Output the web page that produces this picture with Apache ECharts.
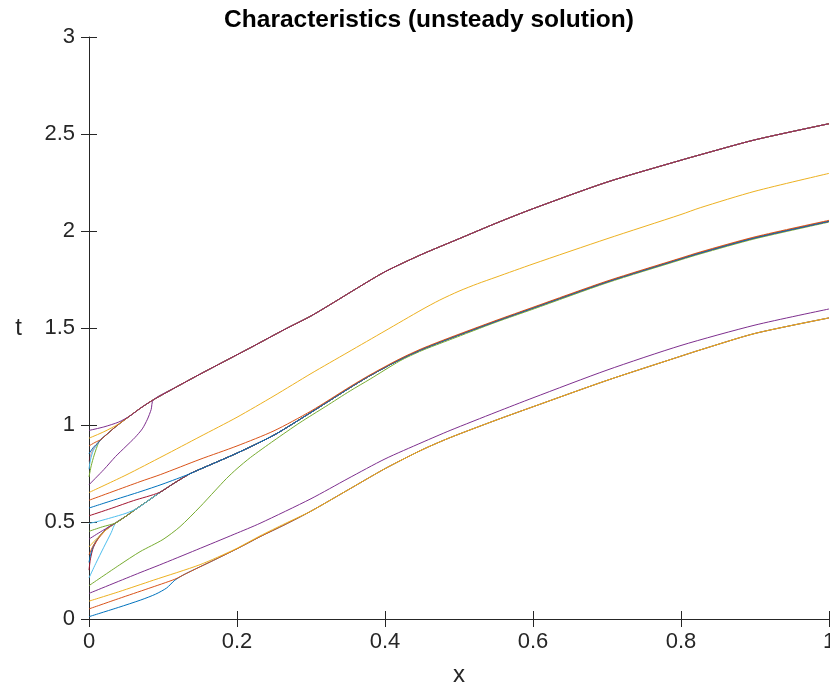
<!DOCTYPE html>
<html>
<head>
<meta charset="utf-8">
<script src="https://cdn.jsdelivr.net/npm/echarts@6/dist/echarts.min.js"></script>
<style>html,body{margin:0;padding:0;background:#fff}#chart{width:830px;height:692px}</style>
</head>
<body>
<div id="chart"></div>
<script>
// ---------- data ----------
const chartTitle = 'Characteristics (unsteady solution)';
const xTickLabels = ['0', '0.2', '0.4', '0.6', '0.8', '1'];
const tTickLabels = ['0', '0.5', '1', '1.5', '2', '2.5', '3'];

// shared trunks where characteristics merge
const lowBranch = [[0.15,0.27],[0.168,0.302],[0.2,0.362],[0.231,0.424],[0.265,0.487]];
const lowTrunk = [[0.3,0.556],[0.353,0.672],[0.4,0.775],[0.45,0.872],[0.488,0.935],[0.55,1.025],[0.6,1.094],[0.7,1.23],[0.8,1.355],[0.826,1.387],[0.9,1.472],[1,1.552]];
const mergeA = [[0.05,0.53]];
const joinB = [[0.064,0.568],[0.08,0.61],[0.095,0.65],[0.115,0.70]];
const blueMid = [[0.136,0.748],[0.15,0.772],[0.2,0.855],[0.25,0.948]];
const midTrunk = [[0.3,1.065],[0.353,1.193],[0.38,1.255],[0.42,1.337],[0.45,1.39],[0.488,1.447],[0.55,1.535],[0.6,1.603],[0.7,1.738],[0.8,1.857],[0.826,1.887],[0.9,1.965],[1,2.05]];
const topA = [[0.025,0.955],[0.035,0.988],[0.045,1.018]];
const topHead = [[0.055,1.046],[0.07,1.088]];
const topTrunk = [[0.087,1.13],[0.12,1.2],[0.15,1.262],[0.2,1.362],[0.22,1.402],[0.265,1.494],[0.3,1.562],[0.33,1.63],[0.36,1.7],[0.4,1.79],[0.45,1.88],[0.5,1.96],[0.55,2.04],[0.6,2.115],[0.7,2.252],[0.8,2.365],[0.826,2.393],[0.9,2.47],[1,2.553]];

// individual branches, one per characteristic (by starting time)
const c00 = [[0,0.012],[0.04,0.06],[0.07,0.098],[0.09,0.128],[0.105,0.16],[0.116,0.2],[0.13,0.232]];
const c01 = [[0,0.052],[0.04,0.105],[0.08,0.157],[0.116,0.205],[0.13,0.232]];
const c02 = [[0,0.092],[0.04,0.14],[0.087,0.2],[0.15,0.28],[0.197,0.359],[0.231,0.428],[0.265,0.492]];
const c03 = [[0,0.132],[0.069,0.239],[0.095,0.278],[0.145,0.356],[0.197,0.438],[0.231,0.493],[0.3,0.62],[0.35,0.724],[0.4,0.825],[0.45,0.91],[0.488,0.972],[0.55,1.066],[0.6,1.14],[0.7,1.283],[0.8,1.41],[0.9,1.515],[1,1.598]];
const c04 = [[0,0.172],[0.041,0.278],[0.069,0.347],[0.1,0.41],[0.123,0.476],[0.15,0.578],[0.17,0.66],[0.186,0.725],[0.2,0.775],[0.218,0.832],[0.25,0.92],[0.285,1.012],[0.32,1.096],[0.353,1.176],[0.38,1.237],[0.42,1.33],[0.45,1.384],[0.488,1.44],[0.55,1.53],[0.6,1.597],[0.7,1.733],[0.8,1.852],[0.826,1.882],[0.9,1.96],[1,2.046]];
const c05 = [[0,0.212],[0.009,0.285],[0.02,0.37],[0.03,0.445],[0.036,0.495]];
const c06 = [[0,0.252],[0.002,0.31],[0.006,0.37],[0.015,0.43],[0.025,0.47],[0.036,0.495]];
const c07 = [[0,0.292],[0.003,0.345],[0.009,0.40],[0.02,0.45],[0.036,0.495]];
const c08 = [[0,0.332],[0.006,0.38],[0.016,0.43],[0.026,0.47],[0.036,0.495]];
const c09 = [[0,0.372],[0.012,0.42],[0.025,0.465],[0.036,0.495]];
const c10 = [[0,0.412],[0.018,0.455],[0.036,0.495]];
const c11 = [[0,0.452],[0.018,0.475],[0.036,0.495]];
const c12 = [[0,0.492],[0.014,0.505],[0.03,0.522],[0.05,0.545]];
const c13 = [[0,0.532],[0.03,0.57],[0.06,0.61],[0.095,0.652]];
const c14 = [[0,0.572],[0.035,0.615],[0.069,0.656],[0.1,0.696]];
const c15 = [[0,0.612],[0.069,0.708],[0.097,0.745],[0.15,0.823],[0.2,0.892],[0.25,0.97],[0.3,1.072],[0.353,1.198],[0.38,1.259],[0.42,1.341],[0.45,1.394],[0.488,1.451],[0.55,1.539],[0.6,1.607],[0.7,1.742],[0.8,1.861],[0.826,1.892],[0.9,1.97],[1,2.055]];
const c16 = [[0,0.652],[0.05,0.742],[0.1,0.84],[0.15,0.94],[0.2,1.04],[0.25,1.15],[0.3,1.265],[0.35,1.375],[0.4,1.485],[0.45,1.595],[0.474,1.644],[0.5,1.69],[0.525,1.728],[0.55,1.762],[0.6,1.83],[0.7,1.96],[0.8,2.085],[0.826,2.12],[0.9,2.205],[1,2.297]];
const c17 = [[0,0.692],[0.02,0.77],[0.036,0.838],[0.05,0.89],[0.062,0.935],[0.072,0.98],[0.079,1.03],[0.084,1.08]];
const c18 = [[0,0.732],[0.003,0.79],[0.007,0.845],[0.013,0.91],[0.016,0.925]];
const c19 = [[0,0.772],[0.002,0.82],[0.006,0.87],[0.013,0.91],[0.016,0.925]];
const c20 = [[0,0.812],[0.003,0.855],[0.008,0.89],[0.013,0.91],[0.016,0.925]];
const c21 = [[0,0.852],[0.006,0.885],[0.013,0.912],[0.016,0.925]];
const c22 = [[0,0.892],[0.008,0.91],[0.016,0.925]];
const c23 = [[0,0.932],[0.02,0.965],[0.04,1.005]];
const c24 = [[0,0.972],[0.02,0.99],[0.04,1.015]];

// ---------- styles ----------
const palette = ['#0072BD','#D95319','#EDB120','#7E2F8E','#77AC30','#4DBEEE','#A2142F'];

const paths = [
  c00.concat(lowBranch.slice(1), lowTrunk),
  c01.concat(lowBranch.slice(1), lowTrunk),
  c02.concat(lowTrunk),
  c03,
  c04,
  c05.concat(mergeA, joinB, blueMid, midTrunk),
  c06.concat(mergeA, joinB, blueMid, midTrunk),
  c07.concat(mergeA, joinB, blueMid, midTrunk),
  c08.concat(mergeA, joinB, blueMid, midTrunk),
  c09.concat(mergeA, joinB, blueMid, midTrunk),
  c10.concat(mergeA, joinB, blueMid, midTrunk),
  c11.concat(mergeA, joinB, blueMid, midTrunk),
  c12.concat(joinB, blueMid, midTrunk),
  c13.concat([[0.115,0.70]], blueMid, midTrunk),
  c14.concat(blueMid, midTrunk),
  c15,
  c16,
  c17.concat(topTrunk),
  c18.concat(topA, topHead, topTrunk),
  c19.concat(topA, topHead, topTrunk),
  c20.concat(topA, topHead, topTrunk),
  c21.concat(topA, topHead, topTrunk),
  c22.concat(topA, topHead, topTrunk),
  c23.concat(topHead, topTrunk),
  c24.concat(topHead, topTrunk)
];

const series = paths.map((d, i) => ({
  type: 'line',
  data: d,
  showSymbol: false,
  smooth: 0.25,
  silent: true,
  z: i === 20 ? 4 : 2,
  lineStyle: { width: 1, color: palette[i % 7], opacity: i === 20 ? 0.4 : 1 },
  emphasis: { disabled: true }
}));

const font = "'Liberation Sans', Arial, Helvetica, sans-serif";
const axisColor = '#262626';

const chart = echarts.init(document.getElementById('chart'), null, { renderer: 'canvas' });
chart.setOption({
  animation: false,
  backgroundColor: '#ffffff',
  title: {
    text: chartTitle,
    left: 424,
    top: 3,
    textAlign: 'center',
    textStyle: { fontFamily: font, fontSize: 24.5, fontWeight: 'bold', color: '#000' }
  },
  grid: { left: 89, right: 1, top: 37, bottom: 73, containLabel: false, outerBoundsMode: 'none' },
  xAxis: [
    {
      type: 'value', min: 0, max: 1, interval: 0.2, position: 'bottom',
      name: 'x', nameLocation: 'middle', nameGap: 44,
      nameTextStyle: { fontFamily: font, fontSize: 24, color: '#262626' },
      axisLine: { show: true, lineStyle: { color: axisColor, width: 1 } },
      axisTick: { show: true, inside: true, length: 8, lineStyle: { color: axisColor } },
      axisLabel: { margin: 12, fontFamily: font, fontSize: 22, color: '#262626',
        formatter: (v) => xTickLabels[Math.round(v / 0.2)] },
      splitLine: { show: false }
    },
    {
      type: 'value', min: 0, max: 1, interval: 0.2, position: 'top',
      axisLine: { show: true, lineStyle: { color: axisColor, width: 1 } },
      axisTick: { show: true, inside: true, length: 8, lineStyle: { color: axisColor } },
      axisLabel: { show: false },
      splitLine: { show: false }
    }
  ],
  yAxis: [
    {
      type: 'value', min: 0, max: 3, interval: 0.5, position: 'left',
      name: 't', nameLocation: 'middle', nameGap: 67, nameRotate: 0,
      nameTextStyle: { fontFamily: font, fontSize: 24, color: '#262626' },
      axisLine: { show: true, lineStyle: { color: axisColor, width: 1 } },
      axisTick: { show: true, inside: true, length: 8, lineStyle: { color: axisColor } },
      axisLabel: { margin: 14, fontFamily: font, fontSize: 22, color: '#262626',
        formatter: (v) => tTickLabels[Math.round(v / 0.5)] },
      splitLine: { show: false }
    },
    {
      type: 'value', min: 0, max: 3, interval: 0.5, position: 'right',
      axisLine: { show: false },
      axisTick: { show: true, inside: true, length: 8, lineStyle: { color: axisColor } },
      axisLabel: { show: false },
      splitLine: { show: false }
    }
  ],
  series: series
});
</script>
</body>
</html>
